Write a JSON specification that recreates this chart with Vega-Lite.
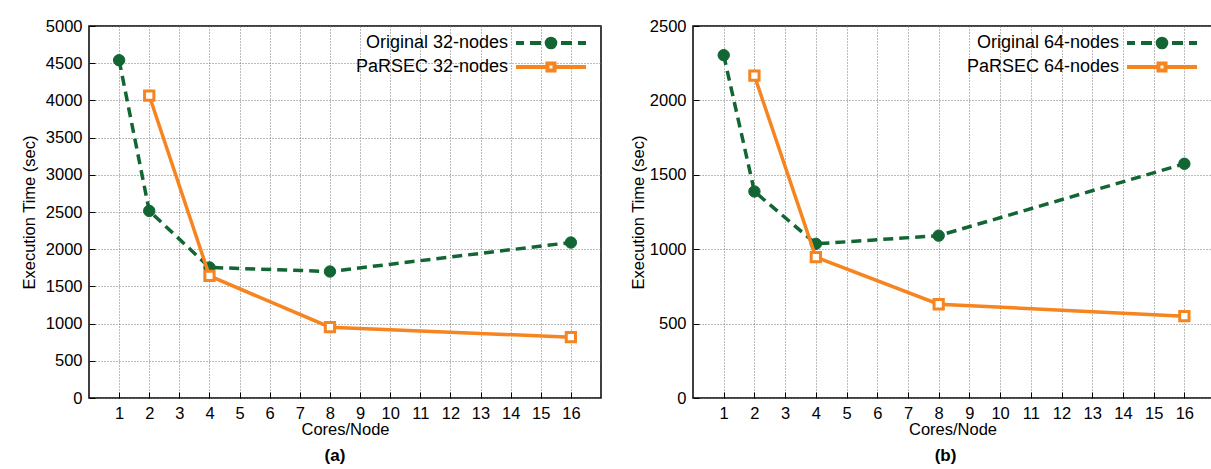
{
  "$schema": "https://vega.github.io/schema/vega-lite/v6.json",
  "padding": {"left": 20, "top": 17, "right": 0, "bottom": 0},
  "background": "white",
  "datasets": {
    "a": [
      {"series": "Original 32-nodes", "cores": 1, "time": 4540},
      {"series": "Original 32-nodes", "cores": 2, "time": 2515},
      {"series": "Original 32-nodes", "cores": 4, "time": 1755},
      {"series": "Original 32-nodes", "cores": 8, "time": 1700},
      {"series": "Original 32-nodes", "cores": 16, "time": 2090},
      {"series": "PaRSEC 32-nodes", "cores": 2, "time": 4065},
      {"series": "PaRSEC 32-nodes", "cores": 4, "time": 1640},
      {"series": "PaRSEC 32-nodes", "cores": 8, "time": 952},
      {"series": "PaRSEC 32-nodes", "cores": 16, "time": 817}
    ],
    "b": [
      {"series": "Original 64-nodes", "cores": 1, "time": 2304},
      {"series": "Original 64-nodes", "cores": 2, "time": 1388},
      {"series": "Original 64-nodes", "cores": 4, "time": 1036},
      {"series": "Original 64-nodes", "cores": 8, "time": 1091},
      {"series": "Original 64-nodes", "cores": 16, "time": 1574},
      {"series": "PaRSEC 64-nodes", "cores": 2, "time": 2166},
      {"series": "PaRSEC 64-nodes", "cores": 4, "time": 946},
      {"series": "PaRSEC 64-nodes", "cores": 8, "time": 630},
      {"series": "PaRSEC 64-nodes", "cores": 16, "time": 550}
    ]
  },
  "spacing": 27,
  "resolve": {"scale": {"shape": "independent", "stroke": "independent", "fill": "independent"}, "legend": {"shape": "independent", "stroke": "independent", "fill": "independent"}},
  "hconcat": [
    {
      "width": 512,
      "height": 372,
      "data": {"name": "a"},
      "title": {"text": "(a)", "orient": "bottom", "frame": "group", "dx": -10, "offset": 10, "fontSize": 17, "fontWeight": "bold", "font": "Liberation Sans", "color": "#000"},
      "encoding": {
        "x": {"field": "cores", "type": "quantitative", "scale": {"domain": [0, 17], "nice": false},
              "axis": {"title": "Cores/Node", "values": [1,2,3,4,5,6,7,8,9,10,11,12,13,14,15,16], "format": "d", "titlePadding": 0}},
        "y": {"field": "time", "type": "quantitative", "scale": {"domain": [0, 5000], "nice": false},
              "axis": {"title": "Execution Time (sec)", "values": [0,500,1000,1500,2000,2500,3000,3500,4000,4500,5000], "format": "d", "titlePadding": 8}}
      },
      "layer": [
        {"transform": [{"filter": "datum.series === 'Original 32-nodes'"}],
         "mark": {"type": "line", "stroke": "#126634", "strokeWidth": 3.5, "strokeDash": [10, 6]}},
        {"transform": [{"filter": "datum.series === 'Original 32-nodes'"}],
         "mark": {"type": "point", "shape": "circle", "filled": true, "fill": "#126634", "stroke": "#126634", "strokeWidth": 1, "size": 130, "opacity": 1}},
        {"transform": [{"filter": "datum.series === 'PaRSEC 32-nodes'"}],
         "mark": {"type": "line", "stroke": "#f6841f", "strokeWidth": 3.5}},
        {"transform": [{"filter": "datum.series === 'PaRSEC 32-nodes'"}],
         "mark": {"type": "point", "shape": "square", "filled": true, "fill": "#ffffff", "stroke": "#f6841f", "strokeWidth": 3, "size": 86, "opacity": 1}},
        {"transform": [{"filter": "false"}],
         "mark": {"type": "point", "filled": true, "opacity": 1, "strokeWidth": 4},
         "encoding": {
           "shape": {"field": "series", "type": "nominal",
                     "scale": {"domain": ["Original 32-nodes", "PaRSEC 32-nodes"],
                               "range": ["M-3.89,0H-3M-2.33,0H-1.11M1.11,0H2.33M3,0H3.89M0.48,0A0.48,0.48,0,1,1,-0.48,0A0.48,0.48,0,1,1,0.48,0Z",
                                         "M-3.89,0H-0.39M0.39,0H3.89M-0.39,-0.39H0.39V0.39H-0.39Z"]},
                     "legend": {"title": null, "orient": "top-right", "offset": 6, "symbolSize": 324, "symbolStrokeWidth": 4, "symbolOffset": 24, "labelOffset": -54, "labelAlign": "right", "labelFontSize": 18, "labelFont": "Liberation Sans", "labelColor": "#000", "rowPadding": -3, "padding": 0, "labelLimit": 300}},
           "stroke": {"field": "series", "type": "nominal", "scale": {"domain": ["Original 32-nodes", "PaRSEC 32-nodes"], "range": ["#126634", "#f6841f"]}},
           "fill": {"field": "series", "type": "nominal", "scale": {"domain": ["Original 32-nodes", "PaRSEC 32-nodes"], "range": ["#126634", "#ffffff"]}}
         }}
      ]
    },
    {
      "width": 519,
      "height": 372,
      "data": {"name": "b"},
      "title": {"text": "(b)", "orient": "bottom", "frame": "group", "dx": -7, "offset": 10, "fontSize": 17, "fontWeight": "bold", "font": "Liberation Sans", "color": "#000"},
      "encoding": {
        "x": {"field": "cores", "type": "quantitative", "scale": {"domain": [0, 16.9], "nice": false},
              "axis": {"title": "Cores/Node", "values": [1,2,3,4,5,6,7,8,9,10,11,12,13,14,15,16], "format": "d", "titlePadding": 0}},
        "y": {"field": "time", "type": "quantitative", "scale": {"domain": [0, 2500], "nice": false},
              "axis": {"title": "Execution Time (sec)", "values": [0,500,1000,1500,2000,2500], "format": "d", "titlePadding": 3}}
      },
      "layer": [
        {"transform": [{"filter": "datum.series === 'Original 64-nodes'"}],
         "mark": {"type": "line", "stroke": "#126634", "strokeWidth": 3.5, "strokeDash": [10, 6]}},
        {"transform": [{"filter": "datum.series === 'Original 64-nodes'"}],
         "mark": {"type": "point", "shape": "circle", "filled": true, "fill": "#126634", "stroke": "#126634", "strokeWidth": 1, "size": 130, "opacity": 1}},
        {"transform": [{"filter": "datum.series === 'PaRSEC 64-nodes'"}],
         "mark": {"type": "line", "stroke": "#f6841f", "strokeWidth": 3.5}},
        {"transform": [{"filter": "datum.series === 'PaRSEC 64-nodes'"}],
         "mark": {"type": "point", "shape": "square", "filled": true, "fill": "#ffffff", "stroke": "#f6841f", "strokeWidth": 3, "size": 86, "opacity": 1}},
        {"transform": [{"filter": "false"}],
         "mark": {"type": "point", "filled": true, "opacity": 1, "strokeWidth": 4},
         "encoding": {
           "shape": {"field": "series", "type": "nominal",
                     "scale": {"domain": ["Original 64-nodes", "PaRSEC 64-nodes"],
                               "range": ["M-3.89,0H-3M-2.33,0H-1.11M1.11,0H2.33M3,0H3.89M0.48,0A0.48,0.48,0,1,1,-0.48,0A0.48,0.48,0,1,1,0.48,0Z",
                                         "M-3.89,0H-0.39M0.39,0H3.89M-0.39,-0.39H0.39V0.39H-0.39Z"]},
                     "legend": {"title": null, "orient": "top-right", "offset": 6, "symbolSize": 324, "symbolStrokeWidth": 4, "symbolOffset": 24, "labelOffset": -54, "labelAlign": "right", "labelFontSize": 18, "labelFont": "Liberation Sans", "labelColor": "#000", "rowPadding": -3, "padding": 0, "labelLimit": 300}},
           "stroke": {"field": "series", "type": "nominal", "scale": {"domain": ["Original 64-nodes", "PaRSEC 64-nodes"], "range": ["#126634", "#f6841f"]}},
           "fill": {"field": "series", "type": "nominal", "scale": {"domain": ["Original 64-nodes", "PaRSEC 64-nodes"], "range": ["#126634", "#ffffff"]}}
         }}
      ]
    }
  ],
  "config": {
    "view": {"stroke": "#000", "strokeWidth": 1.5},
    "axis": {
      "domain": false,
      "grid": true,
      "gridColor": "#777",
      "gridDash": [1, 2],
      "gridWidth": 1,
      "gridOpacity": 1,
      "ticks": true,
      "tickSize": -6,
      "tickColor": "#000",
      "tickWidth": 1,
      "labelPadding": 13,
      "labelFont": "Liberation Sans",
      "labelFontSize": 16.5,
      "labelColor": "#000",
      "titleFont": "Liberation Sans",
      "titleFontSize": 16.5,
      "titleFontWeight": "normal",
      "titleColor": "#000"
    }
  }
}
